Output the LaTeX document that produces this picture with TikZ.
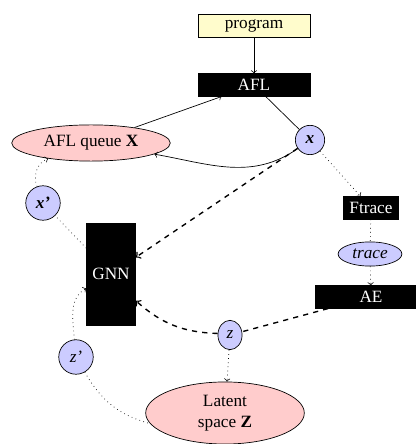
\documentclass[tikz,border=0pt]{standalone}
\usepackage{amsmath,amssymb}
\usepackage{xcolor}
\usepackage{fontspec}
\setmainfont{Liberation Serif}
\usepackage{tikz}
\usetikzlibrary{shapes,arrows}

\begin{document}
\begin{tikzpicture}[
    x=0.58pt, y=0.58pt,
    box/.style={rectangle, draw, minimum width=65pt, minimum height=13pt, inner ysep=1pt, align=center},
    blackbox/.style={box, fill=black, text=white},
    var/.style={circle, draw, fill=blue!20, inner sep=0pt},
    set/.style={ellipse, draw, fill=red!20, align=center, inner sep=0pt},
    arrow/.style={->},
    dasharrow/.style={->, dashed, thick},
    dotarrow/.style={->, dotted}
]
\useasboundingbox (0,0) rectangle (416,444);

% Fuzzer
\node[box, fill=yellow!20] (program) at (254,418) {program};
\node[blackbox] (afl) at (254,359) {AFL};
\node[set, minimum width=92pt, minimum height=21pt] (queue) at (91,301) {AFL queue \textbf{X}};
\node[var, minimum size=17pt] (xnode) at (310,304) {\textbf{\textit{x}}};
\node[var, minimum size=20pt] (xprime) at (43,241) {\textbf{\textit{x'}}};

% Trace branch
\node[blackbox, minimum width=0pt] (ftrace) at (371,236) {Ftrace};
\node[ellipse, draw, fill=blue!20, minimum width=37pt, minimum height=14pt, inner sep=0pt] (trace) at (370,190) {\textit{trace}};
\node[blackbox] (ae) at (371,147) {AE};

% GNN and latent space
\node[blackbox, minimum width=28pt, minimum height=59pt] (gnn) at (111,170) {GNN};
\node[var, ellipse, minimum width=14pt, minimum height=17pt] (znode) at (230,109) {\textit{z}};
\node[var, minimum size=20pt] (zprime) at (76,87) {\textit{z'}};
\node[set, minimum width=92pt, minimum height=36pt] (latent) at (225,31) {Latent\\space \textbf{Z}};

% Arrows
\draw[arrow] (program) -- (afl);
\draw[arrow] (queue) -- (afl);
\draw (afl) -- (xnode);
\draw[arrow] (xnode) to[out=215, in=-10] (queue);
\draw[dasharrow] (xnode) -- (gnn);
\draw[dotarrow] (xnode) -- (ftrace);
\draw[dotted] (ftrace) -- (trace);
\draw[dotarrow] (trace) -- (ae);
\draw[dashed, thick] (ae) -- (znode);
\draw[dasharrow] (znode) to[bend left=20] (gnn);
\draw[dotarrow] (znode) -- (latent);
\draw[dotted] (zprime) to[out=-60, in=165] (latent.188);
\draw[dotarrow] (zprime) to[out=95, in=210] (gnn);
\draw[dotted] (gnn) -- (xprime);
\draw[dotarrow] (xprime) to[out=110, in=200] (queue);

\end{tikzpicture}
\end{document}
